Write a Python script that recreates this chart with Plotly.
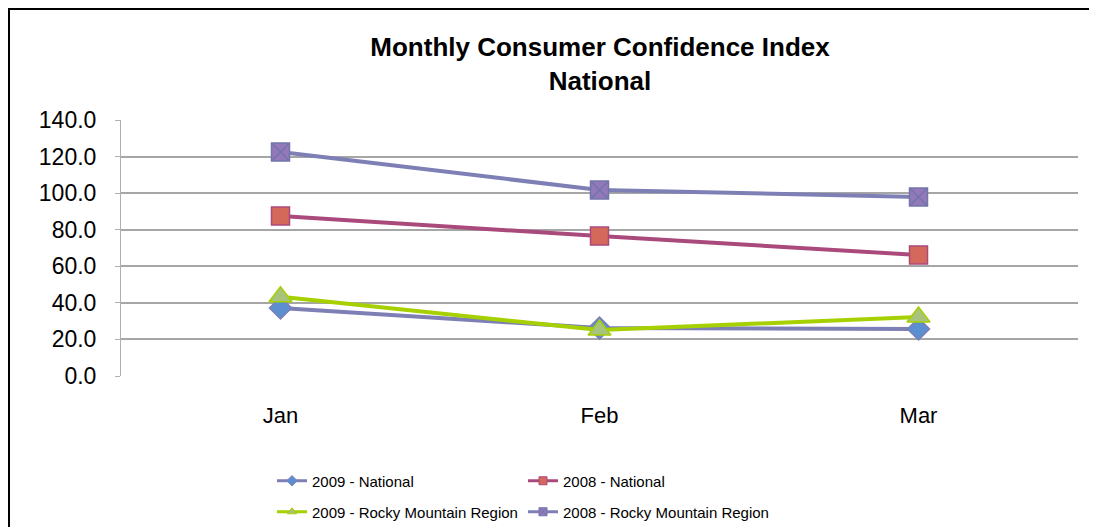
import plotly.graph_objects as go

months = ["Jan", "Feb", "Mar"]
nat_2009 = [37.2, 26.2, 25.7]
nat_2008 = [87.5, 76.5, 66.2]
rocky_2009 = [43.3, 25.1, 32.3]
rocky_2008 = [122.5, 101.7, 97.9]
y_ticks = [0, 20, 40, 60, 80, 100, 120, 140]

FONT = "Liberation Sans, Arial, sans-serif"

series = [
    dict(name="2009 - National", y=nat_2009, line="#7e7fb5", symbol="diamond",
         fill="#5b8fcf", edge="#7e7fb5", size=17, legend="legend"),
    dict(name="2008 - National", y=nat_2008, line="#aa4a7c", symbol="square",
         fill="#d4685a", edge="#aa4a7c", size=18, legend="legend"),
    dict(name="2009 - Rocky Mountain Region", y=rocky_2009, line="#a6d000", symbol="triangle-up",
         fill="#a8c37c", edge="#a6d000", size=20, legend="legend2"),
    dict(name="2008 - Rocky Mountain Region", y=rocky_2008, line="#7e7fb5", symbol="square-x",
         fill="#9379b9", edge="#7275ab", size=18, legend="legend2"),
]

fig = go.Figure()
for s in series:
    fig.add_trace(go.Scatter(
        x=months, y=s["y"], name=s["name"], mode="lines+markers", showlegend=False,
        line=dict(color=s["line"], width=4),
        marker=dict(symbol=s["symbol"], size=s["size"], color=s["fill"],
                    line=dict(color=s["edge"], width=1.5))))
# legend entries with small markers (as in the reference legend)
for s in series:
    fig.add_trace(go.Scatter(
        x=[None], y=[None], name=s["name"], mode="lines+markers", legend=s["legend"],
        line=dict(color=s["line"], width=3),
        marker=dict(symbol=s["symbol"], size=8, color=s["fill"],
                    line=dict(color=s["edge"], width=1))))

OFF = 8  # browser body margin
W, H = 1097 - OFF, 527 - OFF
L, R, T, B = 121 - OFF, 1078 - OFF, 120 - OFF, 376 - OFF

def px_x(p):
    return (p - OFF - L) / (R - L)

def px_y(p):
    return (B - (p - OFF)) / (B - T)

fig.update_layout(
    width=W, height=H,
    margin=dict(l=L, r=W - R, t=T, b=H - B, autoexpand=False),
    paper_bgcolor="white", plot_bgcolor="white",
    font=dict(family=FONT, color="#000000"),
    title=dict(text="<b>Monthly Consumer Confidence Index<br>National</b>",
               font=dict(size=26, family=FONT, color="#000000"),
               x=px_x(600), xanchor="center", xref="paper",
               y=1 - (56 - OFF) / H, yanchor="top", yref="container"),
    xaxis=dict(range=[-0.5, 2.5], showgrid=False, zeroline=False, showline=False,
               ticks="", tickfont=dict(size=22, family=FONT, color="#000000"),
               ticklabelstandoff=24, fixedrange=True),
    yaxis=dict(range=[0, 140], tickvals=y_ticks, tickformat=".1f",
               showgrid=True, gridcolor="#a6a6a6", gridwidth=1.5,
               zeroline=False, showline=True, linecolor="#b0b0b0", linewidth=1,
               ticks="outside", ticklen=5, tickcolor="#b0b0b0",
               tickfont=dict(size=23, family=FONT, color="#000000"),
               ticklabelstandoff=14, fixedrange=True),
    legend=dict(orientation="h", x=px_x(272), xanchor="left", y=px_y(481), yanchor="middle",
                font=dict(size=15, family=FONT, color="#000000"),
                entrywidth=206, entrywidthmode="pixels", bgcolor="rgba(0,0,0,0)"),
    legend2=dict(orientation="h", x=px_x(272), xanchor="left", y=px_y(512), yanchor="middle",
                 font=dict(size=15, family=FONT, color="#000000"),
                 entrywidth=206, entrywidthmode="pixels", bgcolor="rgba(0,0,0,0)"),
    shapes=[
        dict(type="line", xref="paper", yref="paper", x0=px_x(7), x1=px_x(1097),
             y0=px_y(8.5), y1=px_y(8.5), line=dict(color="#000000", width=3)),
        dict(type="line", xref="paper", yref="paper", x0=px_x(8.5), x1=px_x(8.5),
             y0=px_y(7), y1=px_y(527), line=dict(color="#000000", width=3)),
    ],
)

fig.write_html("out.html")
